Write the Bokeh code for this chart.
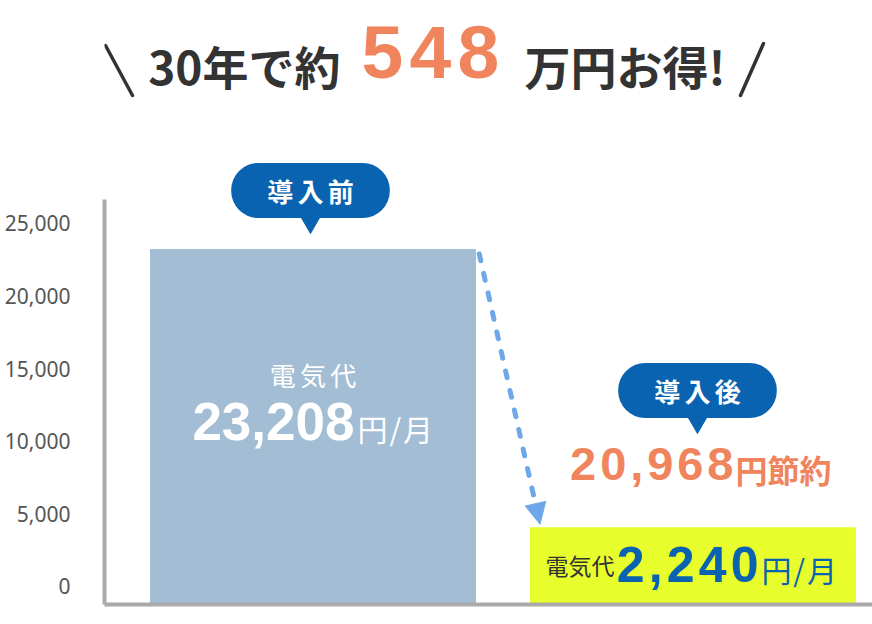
from bokeh.plotting import figure
from bokeh.models import (Range1d, FixedTicker, NumeralTickFormatter, Label,
                          Arrow, NormalHead, ColumnDataSource)
from bokeh.core.properties import value
from bokeh.embed import file_html
from bokeh.resources import INLINE

# ---------------- data ----------------
stages = ["導入前", "導入後"]
monthly_cost = [23208, 2240]          # 円/月
monthly_saving = 20968                # 円節約
saving_30y = 548                      # 万円
cost_label = "電気代"
unit_label = "円/月"
y_ticks = [0, 5000, 10000, 15000, 20000, 25000]

# ---------------- style ----------------
JP = "Noto Sans CJK JP"
NUM = "Liberation Sans"
HS = "\u200a"      # hair space (letter spacing)
SS = "\u2006"      # six-per-em space
BAR_COLORS = ["#a3bdd4", "#e8fe2c"]
BLUE = "#0a63b0"
ORANGE = "#f0845c"
DARK = "#333333"
AXIS = "#aaaaaa"
X_POS = [0, 1]
BAR_W = 0.855
LABEL_PAD = 1800
Y_START, Y_END = -1240, 40358


def spaced(s, sep=HS):
    return sep.join(s)


p = figure(width=872, height=624, output_backend="svg", toolbar_location=None,
           x_range=Range1d(-0.5487, 1.4724), y_range=Range1d(Y_START, Y_END),
           min_border_left=104, min_border_right=0, min_border_top=0,
           min_border_bottom=20)
p.outline_line_color = None
p.grid.grid_line_color = None
p.background_fill_color = "white"
p.border_fill_color = "white"

# y axis
p.yaxis.ticker = FixedTicker(ticks=y_ticks)
p.yaxis.formatter = NumeralTickFormatter(format="0,0")
p.yaxis.bounds = (Y_START, 26650)
p.yaxis.axis_line_color = AXIS
p.yaxis.axis_line_width = 4
p.yaxis.major_tick_line_color = None
p.yaxis.minor_tick_line_color = None
p.yaxis.major_tick_out = 0
p.yaxis.major_tick_in = 0
p.yaxis.minor_tick_out = 0
p.yaxis.minor_tick_in = 0
p.yaxis.major_label_standoff = 34
p.yaxis.major_label_text_font = "Noto Sans"
p.yaxis.major_label_text_font_size = "21px"
p.yaxis.major_label_text_color = "#555555"

# x axis: just the baseline
p.xaxis.ticker = FixedTicker(ticks=[])
p.xaxis.major_label_text_font_size = "0px"
p.xaxis.axis_line_color = AXIS
p.xaxis.axis_line_width = 4
p.xaxis.major_tick_line_color = None
p.xaxis.minor_tick_line_color = None
p.xaxis.major_tick_out = 0
p.xaxis.major_tick_in = 0
p.xaxis.minor_tick_out = 0
p.xaxis.minor_tick_in = 0

# bars
src = ColumnDataSource(dict(x=X_POS, top=monthly_cost, color=BAR_COLORS))
p.vbar(x="x", top="top", bottom=Y_START, width=BAR_W, color="color", source=src)
# label panel of the "after" bar
p.quad(left=[X_POS[1] - BAR_W / 2], right=[X_POS[1] + BAR_W / 2],
       bottom=[Y_START], top=[monthly_cost[1] + LABEL_PAD], color=BAR_COLORS[1])

# dashed arrow
p.add_layout(Arrow(x_start=X_POS[0] + BAR_W / 2 + 0.01, y_start=monthly_cost[0] - 300,
                   x_end=X_POS[1] - BAR_W / 2 + 0.025, y_end=monthly_cost[1] + LABEL_PAD + 250,
                   line_color="#6fa8e8", line_width=5, line_dash="7 13", line_cap="round",
                   end=NormalHead(size=21, fill_color="#6fa8e8", line_color="#6fa8e8",
                                  line_width=1)))

# title
tf = value(JP)
nf = value(NUM)
p.segment(x0=[-0.546, 1.1855], y0=[37259, 37396], x1=[-0.475, 1.125], y1=[33815, 33815],
          line_color=DARK, line_width=3.5, line_cap="round")
p.text(x=[0.0724], y=[35950], text=["30年で約"], text_align="right",
       text_baseline="middle", text_font=tf, text_font_size="46px",
       text_font_style="bold", text_color=DARK)
p.text(x=[0.309], y=[36811], text=[spaced(str(saving_30y))], text_align="center",
       text_baseline="middle", text_font=nf, text_font_size="75px",
       text_font_style="bold", text_color=ORANGE)
p.text(x=[0.5566], y=[35950], text=["万円お得!"], text_align="left",
       text_baseline="middle", text_font=tf, text_font_size="46px",
       text_font_style="bold", text_color=DARK)

# bubbles
bubble_x = [X_POS[0] - 0.0066, X_POS[1] + 0.0118]
bubble_y = [27273, 13499]
pointer_y = [25344, 11570]
p.scatter(x=bubble_x, y=pointer_y, marker="inverted_triangle", size=26,
          color=BLUE, line_color=BLUE)
for bx, by, txt in zip(bubble_x, bubble_y, stages):
    p.add_layout(Label(x=bx, y=by, text=spaced(txt, SS), text_align="center",
                       text_baseline="middle", text_color="white", text_font=JP,
                       text_font_size="26px", text_font_style="bold",
                       background_fill_color=BLUE, border_radius=27,
                       padding=dict(left=36, right=36, top=9, bottom=9)))

# before-bar texts
p.text(x=[X_POS[0]], y=[14600], text=[spaced(cost_label, SS)], text_align="center",
       text_baseline="middle", text_font=tf, text_font_size="26px", text_color="white")
p.text(x=[X_POS[0]], y=[11329], text=[f"{monthly_cost[0]:,}"], text_align="right",
       text_baseline="middle", x_offset=41.5, text_font=nf, text_font_size="53px",
       text_font_style="bold", text_color="white")
p.text(x=[X_POS[0]], y=[10950], text=[spaced(unit_label)], text_align="left",
       text_baseline="middle", x_offset=44.5, text_font=tf, text_font_size="30px",
       text_color="white")

# saving text
p.text(x=[X_POS[1]], y=[8437], text=[spaced(f"{monthly_saving:,}")], text_align="right",
       text_baseline="middle", x_offset=40.5, text_font=nf, text_font_size="47px",
       text_font_style="bold", text_color=ORANGE)
p.text(x=[X_POS[1]], y=[8058], text=["円節約"], text_align="left",
       text_baseline="middle", x_offset=42.5, text_font=tf, text_font_size="32px",
       text_font_style="bold", text_color=ORANGE)

# after-bar texts
p.text(x=[X_POS[1]], y=[1446], text=[cost_label], text_align="left",
       text_baseline="middle", x_offset=-147.5, text_font=tf, text_font_size="23px",
       text_color=DARK)
p.text(x=[X_POS[1]], y=[1446], text=[spaced(f"{monthly_cost[1]:,}")], text_align="right",
       text_baseline="middle", x_offset=65.5, text_font=nf, text_font_size="50px",
       text_font_style="bold", text_color=BLUE)
p.text(x=[X_POS[1]], y=[1171], text=[spaced(unit_label)], text_align="left",
       text_baseline="middle", x_offset=68.5, text_font=tf, text_font_size="30px",
       text_color=BLUE)

open("out.html", "w", encoding="utf-8").write(file_html(p, INLINE))
